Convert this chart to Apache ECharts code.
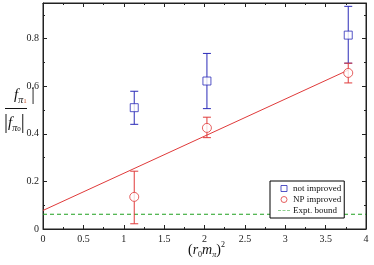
<!DOCTYPE html>
<html><head><meta charset="utf-8">
<script src="https://cdn.jsdelivr.net/npm/echarts@6/dist/echarts.min.js"></script>
<style>html,body{margin:0;padding:0;background:#fff}#c{width:374px;height:265px}</style>
</head><body><div id="c"></div>
<script>
// data
var xVals = [1.13, 2.03, 3.78];
var notImproved = [0.510, 0.622, 0.815];
var notImprovedLow = [0.440, 0.506, 0.697];
var notImprovedHigh = [0.579, 0.738, 0.936];
var npImproved = [0.135, 0.425, 0.656];
var npImprovedLow = [0.022, 0.384, 0.614];
var npImprovedHigh = [0.243, 0.470, 0.697];
var fitX = [0, 3.78];
var fitY = [0.078, 0.668];
var boundX = [0, 4];
var boundY = [0.062, 0.062];

var BLUE = '#2a2ab8', RED = '#e03a3a', GREEN = '#1fa01f';
var FONT = '"Liberation Serif","DejaVu Serif",serif';

function pairs(xs, ys){ return xs.map(function(x,i){return [x, ys[i]];}); }
function errData(xs, lo, hi){ return xs.map(function(x,i){return [x, lo[i], hi[i]];}); }
function errRender(color){
  return function(params, api){
    var x = api.value(0);
    var p1 = api.coord([x, api.value(1)]);
    var p2 = api.coord([x, api.value(2)]);
    var w = 4;
    var st = {stroke: color, lineWidth: 1};
    return {type:'group', children:[
      {type:'line', shape:{x1:p1[0], y1:p1[1], x2:p2[0], y2:p2[1]}, style:st},
      {type:'line', shape:{x1:p1[0]-w, y1:p1[1], x2:p1[0]+w, y2:p1[1]}, style:st},
      {type:'line', shape:{x1:p2[0]-w, y1:p2[1], x2:p2[0]+w, y2:p2[1]}, style:st}
    ]};
  };
}

var chart = echarts.init(document.getElementById('c'), null, {renderer:'canvas'});
function axis(extra){
  var a = {
    type:'value', splitLine:{show:false},
    axisLine:{show:true, onZero:false, lineStyle:{color:'#222', width:1}},
    axisTick:{show:true, inside:true, length:4, lineStyle:{color:'#222'}},
    minorTick:{show:true, splitNumber:2, length:2, lineStyle:{color:'#222'}}
  };
  for (var k in extra) a[k] = extra[k];
  return a;
}
var option = {
  animation:false,
  backgroundColor:'#fff',
  grid:{left:43, right:8, top:3, bottom:36, show:true, borderColor:'#222', borderWidth:1, backgroundColor:'transparent'},
  xAxis:[
    axis({min:0, max:4, interval:0.5, position:'bottom',
      axisLabel:{color:'#222', fontFamily:FONT, fontSize:10, margin:5}}),
    axis({min:0, max:4, interval:0.5, position:'top', axisLabel:{show:false}})
  ],
  yAxis:[
    axis({min:0, max:0.95, interval:0.2, position:'left',
      axisLabel:{color:'#222', fontFamily:FONT, fontSize:10, margin:4, showMaxLabel:false,
        formatter:function(v){ return v===0 ? '0' : String(Math.round(v*10)/10); }}}),
    axis({min:0, max:0.95, interval:0.2, position:'right', axisLabel:{show:false}})
  ],
  legend:{
    orient:'vertical', left:270, top:181,
    backgroundColor:'#fff', borderColor:'#000', borderWidth:1, borderRadius:0,
    padding:[2,3,2,8], itemGap:0, itemWidth:12, itemHeight:6,
    textStyle:{fontFamily:FONT, fontSize:9, color:'#111', lineHeight:11, padding:[0,0,0,-2]},
    data:[
      {name:'not improved', icon:'path://M0,0h1v1h-1z', itemStyle:{color:'transparent', borderColor:BLUE, borderWidth:1}},
      {name:'NP improved', icon:'circle', itemStyle:{color:'transparent', borderColor:RED, borderWidth:1}},
      {name:'Expt. bound', icon:'path://M0,0h3v0.5h-3z M4.5,0h3v0.5h-3z M9,0h3v0.5h-3z', itemStyle:{color:GREEN, borderWidth:0}}
    ]
  },
  graphic:[
    {type:'text', left:14, top:86, style:{
      text:'{f|f}{s|π}{n|1}{b| |}', fontFamily:FONT,
      rich:{f:{fontSize:15, fontStyle:'italic', fontFamily:FONT, fill:'#111'},
            s:{fontSize:10, fontStyle:'italic', fontFamily:FONT, fill:'#111', verticalAlign:'bottom', padding:[10,0,0,0]},
            n:{fontSize:7, fontFamily:FONT, fill:'#c0502a', padding:[12,0,0,0]},
            b:{fontSize:18, fontFamily:FONT, fill:'#111'}}
    }},
    {type:'line', shape:{x1:5, y1:108.5, x2:27, y2:108.5}, style:{stroke:'#111', lineWidth:1}},
    {type:'text', left:4, top:113, style:{
      text:'{b||}{f|f}{s|π}{n|0}{b||}', fontFamily:FONT,
      rich:{f:{fontSize:15, fontStyle:'italic', fontFamily:FONT, fill:'#111'},
            s:{fontSize:10, fontStyle:'italic', fontFamily:FONT, fill:'#111', padding:[10,0,0,0]},
            n:{fontSize:7, fontFamily:FONT, fill:'#111', padding:[12,0,0,0]},
            b:{fontSize:20, fontFamily:FONT, fill:'#111'}}
    }},
    {type:'text', left:188, top:241, style:{
      text:'{p|(}{i|r}{sb|0}{i|m}{sb2|π}{p|)}{sp|2}', fontFamily:FONT,
      rich:{p:{fontSize:14, fontFamily:FONT, fill:'#111'},
            i:{fontSize:14, fontStyle:'italic', fontFamily:FONT, fill:'#111'},
            sb:{fontSize:8, fontFamily:FONT, fill:'#111', padding:[9,0,0,0]},
            sb2:{fontSize:8, fontStyle:'italic', fontFamily:FONT, fill:'#111', padding:[9,0,0,0]},
            sp:{fontSize:8, fontFamily:FONT, fill:'#111', padding:[0,0,10,0]}}
    }}
  ],
  series:[
    {type:'line', name:'fit', data:pairs(fitX, fitY), symbol:'none', silent:true,
      lineStyle:{color:RED, width:1}, z:2},
    {type:'line', name:'Expt. bound', data:pairs(boundX, boundY), symbol:'none',
      lineStyle:{color:GREEN, width:1, type:[4,3]}, itemStyle:{color:GREEN}, z:2},
    {type:'custom', name:'errBlue', data:errData(xVals, notImprovedLow, notImprovedHigh),
      renderItem:errRender(BLUE), z:3},
    {type:'custom', name:'errRed', data:errData(xVals, npImprovedLow, npImprovedHigh),
      renderItem:errRender(RED), z:3},
    {type:'scatter', name:'not improved', data:pairs(xVals, notImproved), symbol:'rect', symbolSize:8,
      itemStyle:{color:'#fff', borderColor:BLUE, borderWidth:1}, z:4},
    {type:'scatter', name:'NP improved', data:pairs(xVals, npImproved), symbol:'circle', symbolSize:9,
      itemStyle:{color:'#fff', borderColor:RED, borderWidth:1}, z:4},
    {type:'scatter', name:'_frame', xAxisIndex:1, yAxisIndex:1, data:[], silent:true}
  ]
};
chart.setOption(option);
</script></body></html>
